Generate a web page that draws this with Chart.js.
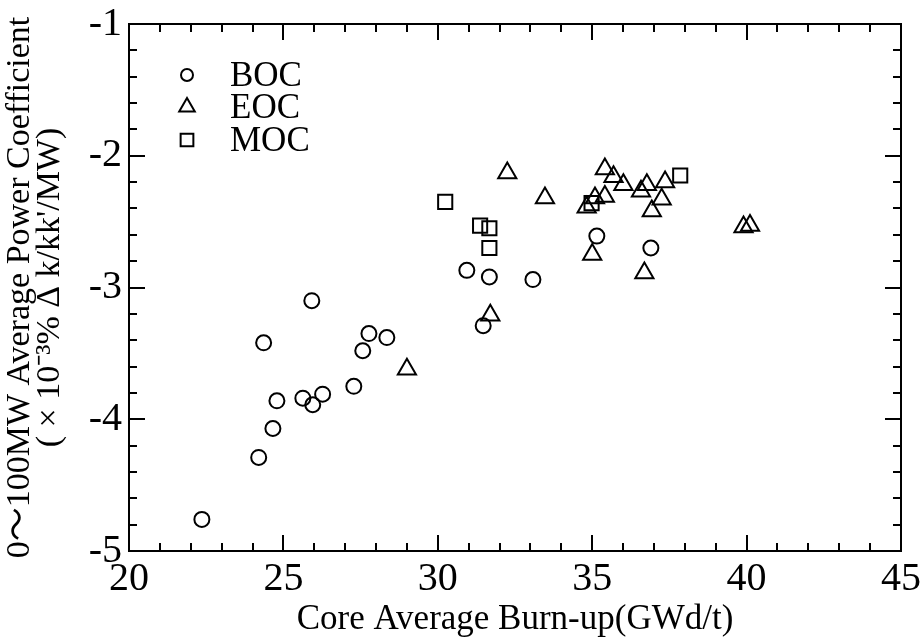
<!DOCTYPE html>
<html><head><meta charset="utf-8">
<script src="https://cdn.jsdelivr.net/npm/chart.js@4/dist/chart.umd.min.js"></script>
<style>html,body{margin:0;padding:0;background:#fff}#wrap{width:921px;height:643px}</style>
</head><body><div id="wrap"><canvas id="c" width="921" height="643"></canvas></div>
<script>
const seriesNames = ["BOC", "EOC", "MOC"];
const bocX = [22.36, 24.20, 24.66, 24.79, 24.36, 25.63, 25.95, 26.27, 25.92, 27.28, 27.57, 27.77, 28.35, 30.94, 31.67, 33.08, 31.47, 35.15, 36.90];
const bocY = [-4.76, -4.29, -4.07, -3.86, -3.42, -3.84, -3.89, -3.81, -3.10, -3.75, -3.48, -3.35, -3.38, -2.87, -2.92, -2.94, -3.29, -2.61, -2.70];
const eocX = [29.00, 31.70, 32.25, 33.47, 34.82, 35.09, 35.41, 35.41, 35.69, 36.01, 36.58, 36.77, 37.36, 37.25, 36.93, 35.00, 36.69, 39.90, 40.11];
const eocY = [-3.62, -3.21, -2.13, -2.32, -2.39, -2.32, -2.31, -2.10, -2.16, -2.22, -2.27, -2.22, -2.20, -2.33, -2.42, -2.75, -2.89, -2.54, -2.53];
const mocX = [30.24, 31.37, 31.67, 31.67, 34.98, 37.85];
const mocY = [-2.35, -2.53, -2.55, -2.70, -2.36, -2.15];
const xTickValues = [20, 25, 30, 35, 40, 45];
const yTickValues = [-5, -4, -3, -2, -1];
const xTitle = "Core Average Burn-up(GWd/t)";
const yTitle = ["0\u301C100MW Average Power Coefficient", "( \u00D7 10\u207B\u00B3% \u0394 k/kk'/MW)"];

const FONT = '"Liberation Serif", "Times New Roman", "Noto Sans CJK JP", serif';
const toPts = (xs, ys) => xs.map((x, i) => ({x: x, y: ys[i]}));

const styles = [
  {pointStyle: 'circle', pointRadius: 7.5},
  {pointStyle: 'triangle', pointRadius: 10.5},
  {pointStyle: 'rect', pointRadius: 10}
];
const dataSets = [toPts(bocX, bocY), toPts(eocX, eocY), toPts(mocX, mocY)];

const frame = {
  id: 'frame',
  afterDraw(chart) {
    const ctx = chart.ctx, a = chart.chartArea, xs = chart.scales.x, ys = chart.scales.y;
    ctx.save();
    ctx.strokeStyle = '#000';
    ctx.lineWidth = 2;
    ctx.strokeRect(a.left, a.top, a.right - a.left, a.bottom - a.top);
    ctx.beginPath();
    for (let v = xs.min; v <= xs.max + 1e-9; v += 1) {
      const px = Math.round(xs.getPixelForValue(v));
      const L = (Math.abs(v % 5) < 1e-6) ? 16 : 8;
      ctx.moveTo(px, a.bottom); ctx.lineTo(px, a.bottom - L);
      ctx.moveTo(px, a.top); ctx.lineTo(px, a.top + L);
    }
    for (let k = 0; k <= 20; k++) {
      const v = ys.min + k * 0.2;
      const py = Math.round(ys.getPixelForValue(v));
      const L = (k % 5 === 0) ? 16 : 8;
      ctx.moveTo(a.left, py); ctx.lineTo(a.left + L, py);
      ctx.moveTo(a.right, py); ctx.lineTo(a.right - L, py);
    }
    ctx.stroke();
    // legend
    const lx = 187, ly = [75, 107, 140], tx = 230;
    const legSize = [6, 9, 9];
    ctx.font = '35px ' + FONT;
    ctx.textBaseline = 'middle';
    ctx.textAlign = 'left';
    for (let i = 0; i < 3; i++) {
      ctx.lineWidth = 2;
      ctx.strokeStyle = '#000';
      ctx.fillStyle = '#fff';
      Chart.helpers.drawPoint(ctx, {pointStyle: styles[i].pointStyle, radius: legSize[i], rotation: 0, borderWidth: 2}, lx, ly[i]);
      ctx.fillStyle = '#000';
      ctx.fillText(seriesNames[i], tx, ly[i] + 2);
    }
    ctx.restore();
  }
};

new Chart(document.getElementById('c'), {
  type: 'scatter',
  data: {
    datasets: dataSets.map((d, i) => ({
      label: seriesNames[i],
      data: d,
      pointStyle: styles[i].pointStyle,
      pointRadius: styles[i].pointRadius,
      pointHoverRadius: styles[i].pointRadius,
      borderColor: '#000',
      backgroundColor: 'rgba(255,255,255,0)',
      pointBorderWidth: 2,
      borderWidth: 2
    }))
  },
  options: {
    responsive: false,
    animation: false,
    layout: {padding: {left: 0, top: 24, right: 20, bottom: 0}},
    plugins: {legend: {display: false}, tooltip: {enabled: false}},
    scales: {
      x: {
        type: 'linear', min: 20, max: 45,
        afterBuildTicks: s => { s.ticks = xTickValues.map(v => ({value: v})); },
        afterFit: s => { s.height = 92; s.paddingLeft = 0; s.paddingRight = 0; },
        grid: {display: false, drawTicks: false},
        border: {display: false},
        ticks: {color: '#000', font: {family: FONT, size: 40, lineHeight: 1.0}, padding: 8, maxRotation: 0},
        title: {display: true, text: xTitle, color: '#000', font: {family: FONT, size: 35, lineHeight: 1.2}, padding: {top: 0, bottom: 2}}
      },
      y: {
        type: 'linear', min: -5, max: -1,
        afterBuildTicks: s => { s.ticks = yTickValues.map(v => ({value: v})); },
        afterFit: s => { s.width = 129; s.paddingTop = 0; s.paddingBottom = 0; },
        grid: {display: false, drawTicks: false},
        border: {display: false},
        ticks: {color: '#000', font: {family: FONT, size: 40, lineHeight: 1.0}, padding: 7},
        title: {display: true, text: yTitle, color: '#000', font: {family: FONT, size: 34, lineHeight: 0.88}, padding: {top: 5, bottom: 0}}
      }
    }
  },
  plugins: [frame]
});
</script></body></html>
